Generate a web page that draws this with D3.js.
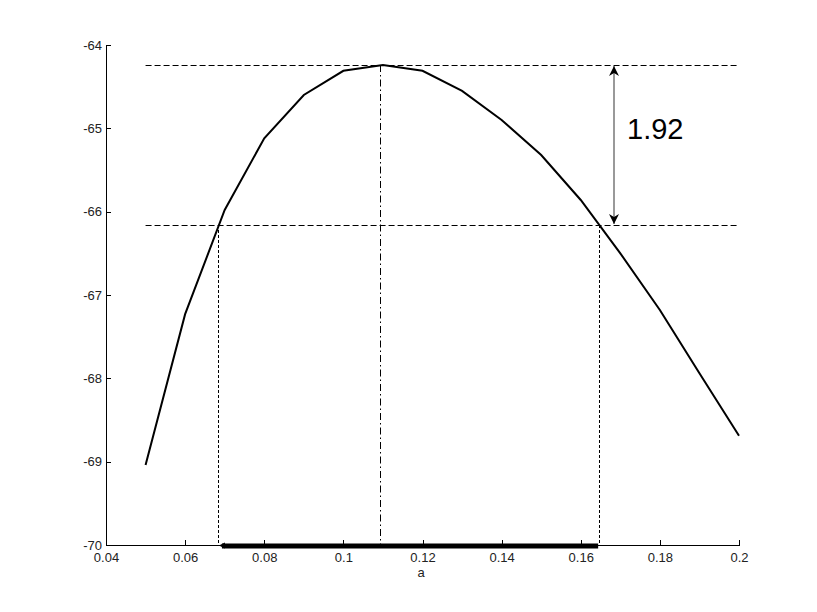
<!DOCTYPE html>
<html><head><meta charset="utf-8">
<script src="https://cdn.jsdelivr.net/npm/d3@7"></script>
<style>body{margin:0;background:#fff;} text{font-family:"Liberation Sans",Arial,sans-serif;}</style>
</head><body>
<svg id="c" width="817" height="612"></svg>
<script>
const aValues = [0.05,0.06,0.07,0.08,0.09,0.10,0.11,0.12,0.13,0.14,0.15,0.16,0.17,0.18,0.19,0.20];
const logLik = [-69.04,-67.23,-65.98,-65.12,-64.60,-64.31,-64.24,-64.31,-64.55,-64.90,-65.32,-65.86,-66.50,-67.18,-67.94,-68.69];
const xTicks = [0.04,0.06,0.08,0.1,0.12,0.14,0.16,0.18,0.2];
const xTickLabels = ["0.04","0.06","0.08","0.1","0.12","0.14","0.16","0.18","0.2"];
const yTicks = [-70,-69,-68,-67,-66,-65,-64];
const yTickLabels = ["-70","-69","-68","-67","-66","-65","-64"];
const maxA = 0.1093, maxL = -64.24, drop = 1.92;
const ciLow = 0.0683, ciHigh = 0.1647;
const ciBar = [0.0693, 0.1644];
const dropLabel = "1.92";
const xLabel = "a";

const svg = d3.select("#c");
const L=106,R=739,T=45,B=545;
const x = d3.scaleLinear().domain([0.04,0.2]).range([L,R]);
const y = d3.scaleLinear().domain([-70,-64]).range([B,T]);

// axes
const xa = svg.append("g").attr("transform",`translate(0,${B})`)
  .call(d3.axisBottom(x).tickValues(xTicks).tickFormat((d,i)=>xTickLabels[i]).tickSizeInner(-5).tickSizeOuter(0).tickPadding(3));
const ya = svg.append("g").attr("transform",`translate(${L},0)`)
  .call(d3.axisLeft(y).tickValues(yTicks).tickFormat((d,i)=>yTickLabels[i]).tickSizeInner(-5).tickSizeOuter(0).tickPadding(3));
[xa,ya].forEach(g=>{
  g.attr("font-size",null).attr("font-family",null);
  g.selectAll("path,line").attr("stroke","#000").attr("stroke-width",1).attr("shape-rendering","crispEdges");
  g.selectAll("text").style("font-size","13px").attr("fill","#222").style("font-family","'Liberation Sans', Arial, sans-serif");
});
ya.selectAll(".tick text").attr("x",-4).attr("dy","0.32em");
xa.selectAll(".tick text").attr("y",8).attr("dy","0.71em");

svg.append("text").attr("x",421).attr("y",577).attr("text-anchor","middle")
  .style("font-size","13px").attr("fill","#222").text(xLabel);

const lowL = maxL - drop;
// horizontal dashed lines
[maxL, lowL].forEach(v=>{
  svg.append("line").attr("x1",x(aValues[0])).attr("x2",x(aValues[aValues.length-1]))
    .attr("y1",Math.round(y(v))+0.5).attr("y2",Math.round(y(v))+0.5).attr("stroke","#000").attr("stroke-width",1)
    .attr("stroke-dasharray","6,3");
});
// vertical dash-dot at max
svg.append("line").attr("x1",Math.round(x(maxA))+0.5).attr("x2",Math.round(x(maxA))+0.5).attr("y1",y(maxL)).attr("y2",B)
  .attr("stroke","#000").attr("stroke-width",1).attr("stroke-dasharray","7,3,1.5,3");
// dotted verticals at CI bounds
[ciLow,ciHigh].forEach(v=>{
  svg.append("line").attr("x1",Math.round(x(v))+0.5).attr("x2",Math.round(x(v))+0.5).attr("y1",y(lowL)).attr("y2",B)
    .attr("stroke","#000").attr("stroke-width",1).attr("stroke-dasharray","3,2");
});

// curve
svg.append("path").datum(aValues.map((a,i)=>[a,logLik[i]]))
  .attr("d",d3.line().x(d=>x(d[0])).y(d=>y(d[1])))
  .attr("fill","none").attr("stroke","#000").attr("stroke-width",2);

// thick CI bar
svg.append("line").attr("x1",x(ciBar[0])).attr("x2",x(ciBar[1])).attr("y1",B+1).attr("y2",B+1)
  .attr("stroke","#000").attr("stroke-width",5);
svg.append("path").attr("d",`M${x(ciBar[0])-3},${B+0.5} l6,-3 l0,6 z`).attr("fill","#000");

// double arrow
const ax = 614;
const defs = svg.append("defs");
defs.append("marker").attr("id","ah").attr("viewBox","0 0 10 10").attr("refX",10).attr("refY",5)
  .attr("markerWidth",10).attr("markerHeight",10).attr("markerUnits","userSpaceOnUse").attr("orient","auto-start-reverse")
  .append("path").attr("d","M0,0 L10,5 L0,10 L3,5 z").attr("fill","#000");
svg.append("line").attr("x1",ax).attr("x2",ax).attr("y1",y(maxL)+1).attr("y2",y(lowL)-1)
  .attr("stroke","#555").attr("stroke-width",1.2)
  .attr("marker-start","url(#ah)").attr("marker-end","url(#ah)");
svg.append("text").attr("x",627).attr("y",139).style("font-size","29px").attr("fill","#000").text(dropLabel);
</script>
</body></html>
